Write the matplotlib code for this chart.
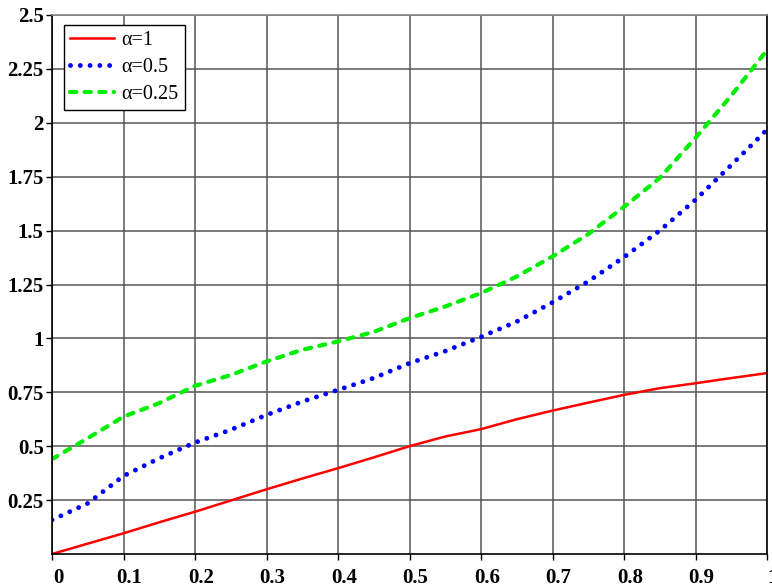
import numpy as np
import matplotlib
matplotlib.use("Agg")
import matplotlib.pyplot as plt
from matplotlib.transforms import ScaledTranslation

# values
x = [0.0, 0.05, 0.1, 0.15, 0.2, 0.25, 0.3, 0.35, 0.4, 0.45, 0.5,
     0.55, 0.6, 0.65, 0.7, 0.75, 0.8, 0.85, 0.9, 0.95, 1.0]
y_a1 = [0.0, 0.048, 0.096, 0.147, 0.196, 0.248, 0.30, 0.35, 0.398, 0.448, 0.50,
        0.545, 0.579, 0.625, 0.665, 0.702, 0.738, 0.769, 0.792, 0.816, 0.839]
y_a05 = [0.158, 0.235, 0.362, 0.444, 0.517, 0.576, 0.645, 0.707, 0.761, 0.816, 0.885,
         0.941, 1.007, 1.078, 1.167, 1.264, 1.377, 1.50, 1.643, 1.804, 1.968]
y_a025 = [0.44, 0.537, 0.637, 0.70, 0.78, 0.83, 0.893, 0.947, 0.986, 1.03, 1.094,
          1.148, 1.21, 1.287, 1.38, 1.484, 1.61, 1.744, 1.93, 2.126, 2.337]

labels = ["α=1", "α=0.5", "α=0.25"]
xticks = [0, 0.1, 0.2, 0.3, 0.4, 0.5, 0.6, 0.7, 0.8, 0.9, 1]
xtick_labels = ["0", "0.1", "0.2", "0.3", "0.4", "0.5", "0.6", "0.7", "0.8", "0.9", "1"]
yticks = [0.25, 0.5, 0.75, 1, 1.25, 1.5, 1.75, 2, 2.25, 2.5]
ytick_labels = ["0.25", "0.5", "0.75", "1", "1.25", "1.5", "1.75", "2", "2.25", "2.5"]

plt.rcParams["font.family"] = ["Liberation Serif", "DejaVu Serif"]

fig = plt.figure(figsize=(7.72, 5.85), dpi=100)
ax = fig.add_axes([52 / 772, 31 / 585, 715 / 772, 539 / 585])

ax.plot(x, y_a1, color="#FF0000", linewidth=1.8, label=labels[0])
ax.plot(x, y_a05, color="#0000FF", linewidth=3.5, linestyle=(0, (0.01, 2.0)),
        dash_capstyle="round", label=labels[1])
ax.plot(x, y_a025, color="#00EE00", linewidth=3.0, linestyle=(0, (1.5, 2.0)),
        dash_capstyle="round", label=labels[2])

ax.set_xlim(0, 1)
ax.set_ylim(0, 2.5)
ax.set_xticks(xticks)
ax.set_xticklabels(xtick_labels, fontsize=15, fontweight="bold")
ax.set_yticks(yticks)
ax.set_yticklabels(ytick_labels, fontsize=15, fontweight="bold")
ax.tick_params(axis="both", direction="out", length=4, width=1, color="black")
ax.tick_params(axis="x", pad=6)
ax.tick_params(axis="y", pad=2)

# x labels sit slightly to the right of their ticks
off = ScaledTranslation(6 / 100, 0, fig.dpi_scale_trans)
for lab in ax.get_xticklabels():
    lab.set_transform(lab.get_transform() + off)

ax.grid(True, color="#555555", linewidth=1.1)
ax.set_axisbelow(True)

ax.spines["left"].set_color("black")
ax.spines["bottom"].set_color("black")
ax.spines["right"].set_color("black")
ax.spines["top"].set_color("#888888")
for s in ax.spines.values():
    s.set_linewidth(1.2)

leg = ax.legend(loc="upper left", bbox_to_anchor=(12 / 715, 1 - 10 / 539),
                fontsize=14.5, frameon=True, fancybox=False, shadow=False,
                framealpha=1, edgecolor="black", handlelength=2.2,
                handletextpad=0.35, borderpad=0.3, labelspacing=0.4,
                borderaxespad=0)
leg.get_frame().set_linewidth(1.0)

fig.savefig("out.png", dpi=100)
